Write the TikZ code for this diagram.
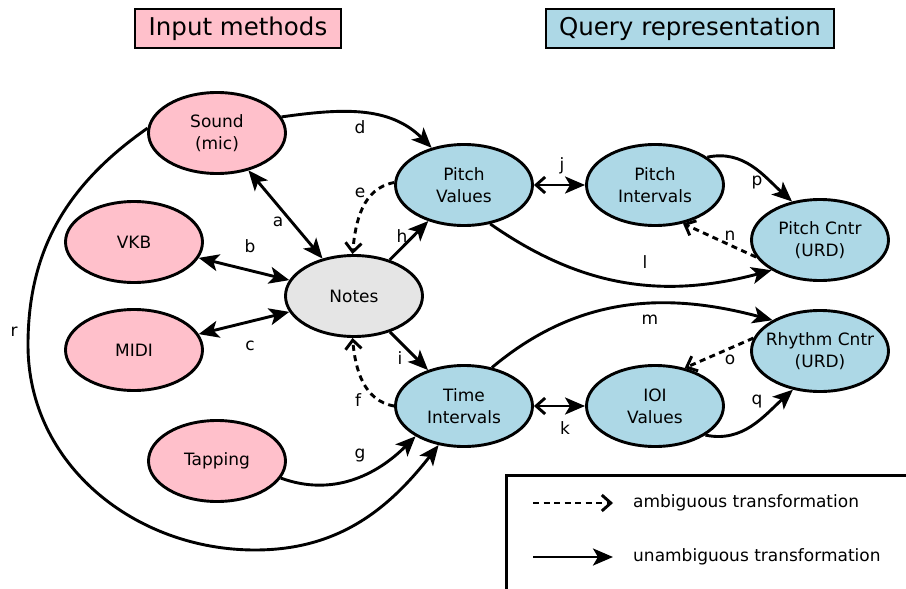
\documentclass[tikz,border=0pt]{standalone}
\usepackage{fontspec}
\setmainfont{DejaVu Sans}
\usetikzlibrary{arrows.meta,shapes.geometric}
\definecolor{inpink}{RGB}{255,192,203}
\definecolor{qblue}{RGB}{173,216,230}
\definecolor{notegray}{RGB}{229,229,229}
\begin{document}
\begin{tikzpicture}[x=1pt,y=1pt,
  state/.style={ellipse,draw,line width=2.9pt,minimum width=137pt,minimum height=81pt,inner sep=0pt,inner xsep=-18pt,align=center,font=\fontsize{17}{22}\selectfont},
  inp/.style={state,fill=inpink},
  qry/.style={state,fill=qblue},
  ttl/.style={draw,line width=2.9pt,minimum height=39pt,inner sep=0pt,font=\fontsize{24.5}{28}\selectfont},
  lbl/.style={inner sep=0pt,font=\fontsize{17}{20}\selectfont},
  tip/.tip={Stealth[length=20pt,width=17pt,inset=5pt]},
  otip/.tip={Straight Barb[length=9pt,width=16pt]},
  arr/.style={line width=2.9pt,-tip},
  bi/.style={line width=2.9pt,tip-tip},
  jk/.style={line width=2.9pt,otip-tip},
  amb/.style={line width=2.9pt,dash pattern=on 6pt off 4.5pt,-otip}]
\useasboundingbox (0,0) rectangle (906,-589);

% titles
\node[ttl,fill=inpink,minimum width=206pt] (t1) at (238,-28.5) {Input methods};
\node[ttl,fill=qblue,minimum width=288pt] (t2) at (690,-28.5) {Query representation};

% nodes
\node[inp] (sound) at (217,-133) {Sound\\(mic)};
\node[inp] (vkb) at (134,-242) {VKB};
\node[inp] (midi) at (134,-350) {MIDI};
\node[inp] (tap) at (217,-461) {Tapping};
\node[state,fill=notegray] (notes) at (354,-296) {Notes};
\node[qry] (pv) at (464,-185) {Pitch\\Values};
\node[qry] (pi) at (655,-185) {Pitch\\Intervals};
\node[qry] (pc) at (820,-240) {Pitch Cntr\\(URD)};
\node[qry] (ti) at (464,-406) {Time\\Intervals};
\node[qry] (ioi) at (655,-406) {IOI\\Values};
\node[qry] (rc) at (820,-351) {Rhythm Cntr\\(URD)};

% edges
\draw[bi] (sound) -- (notes);
\draw[bi] (vkb) -- (notes);
\draw[bi] (midi) -- (notes);
\draw[arr] (sound.14) to[out=8,in=135] (pv.131);
\draw[amb] (pv.178) to[out=190,in=85] (notes.92);
\draw[amb] (ti.180) to[out=170,in=-85] (notes.-92);
\draw[arr] (tap.-15) to[out=-20,in=225] (ti.212);
\draw[arr] (notes) -- (pv);
\draw[arr] (notes) -- (ti);
\draw[jk] (pv) -- (pi);
\draw[jk] (ti) -- (ioi);
\draw[arr] (pv.-56) to[out=-35,in=195] (pc.212);
\draw[arr] (ti.54) to[out=40,in=165] (rc.147);
\draw[amb] (pc.195) -- (pi.-54);
\draw[amb] (rc.169) -- (ioi.52);
\draw[arr] (pi.28) to[out=12,in=138] (pc.126);
\draw[arr] (ioi.-30) to[out=-12,in=222] (rc.235);
\coordinate (rl) at (28,-345);
\coordinate (rb) at (255,-550);
\draw[arr] (sound.176) to[out=215,in=90] (rl) to[out=-90,in=180] (rb) to[out=0,in=232] (ti.237);

% edge labels
\node[lbl] (la) at (278,-222) {a};
\node[lbl] (lb) at (250,-246) {b};
\node[lbl] (lc) at (250,-346) {c};
\node[lbl] (ld) at (360,-127) {d};
\node[lbl] (le) at (360,-193) {e};
\node[lbl] (lf) at (358,-400) {f};
\node[lbl] (lg) at (360,-456) {g};
\node[lbl] (lh) at (402,-236) {h};
\node[lbl] (li) at (400,-358) {i};
\node[lbl] (lj) at (562,-166) {j};
\node[lbl] (lk) at (565,-428) {k};
\node[lbl] (ll) at (645,-262) {l};
\node[lbl] (lm) at (650,-320) {m};
\node[lbl] (ln) at (730,-236) {n};
\node[lbl] (lo) at (730,-360) {o};
\node[lbl] (lp) at (757,-183) {p};
\node[lbl] (lq) at (757,-402) {q};
\node[lbl] (lr) at (14,-332) {r};

% legend
\draw[line width=3pt] (506,-589) -- (506,-475) -- (906,-475);
\coordinate (ga1) at (533,-503);
\coordinate (ga2) at (613,-503);
\coordinate (gu1) at (533,-557);
\coordinate (gu2) at (613,-557);
\draw[amb] (ga1) -- (ga2);
\draw[arr] (gu1) -- (gu2);
\node[lbl,anchor=west] (gat) at (633,-503) {ambiguous transformation};
\node[lbl,anchor=west] (gut) at (633,-557) {unambiguous transformation};
\end{tikzpicture}
\end{document}
